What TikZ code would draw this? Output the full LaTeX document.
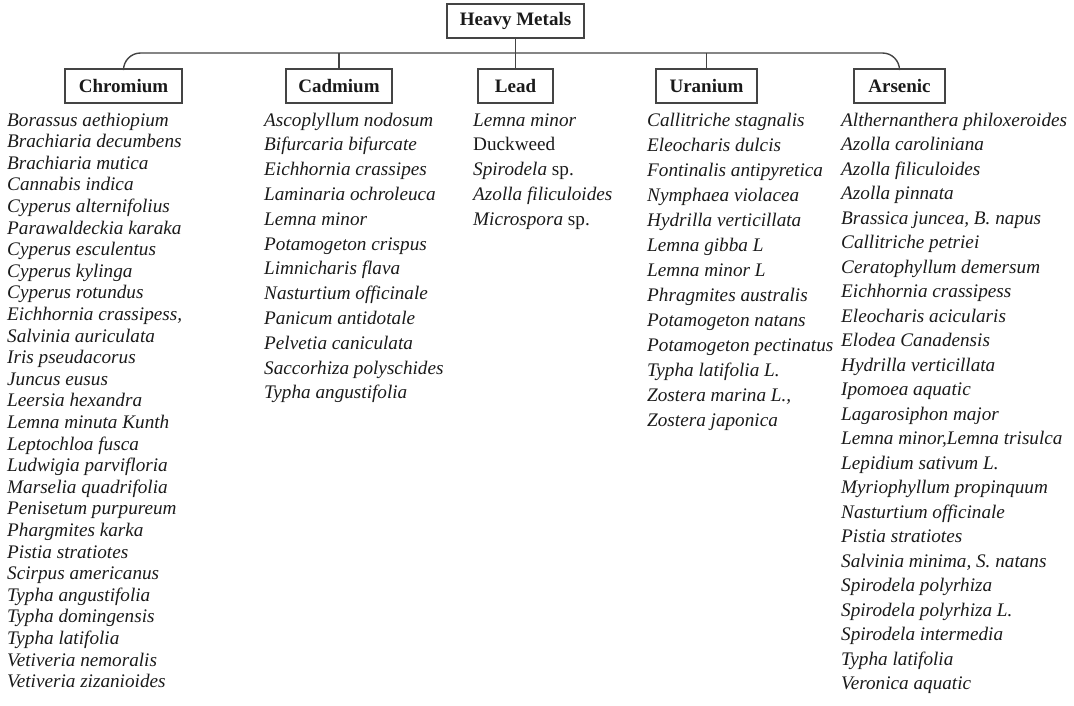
\documentclass[tikz,border=0pt]{standalone}
\usepackage{fontspec}
\setmainfont{Liberation Serif}
\definecolor{ink}{HTML}{1A1A1A}
\definecolor{linec}{HTML}{444444}
\begin{document}
\begin{tikzpicture}[x=1pt,y=-1pt,
  catbox/.style={draw=linec, line width=1.4pt, inner sep=0pt, minimum height=34pt,
     font=\fontsize{19}{22}\selectfont\bfseries, text=ink},
  conn/.style={draw=linec, line width=1.4pt},
  item/.style={anchor=base west, inner sep=0pt, text=ink,
     font=\fontsize{19.2}{22}\selectfont\itshape}]
\useasboundingbox (0,0) rectangle (1074,705);

\node[catbox, minimum width=137pt] (hm)  at (515.5,21) {Heavy Metals};
\node[catbox, minimum width=117pt] (chr) at (123.5,86) {Chromium};
\node[catbox, minimum width=106pt] (cad) at (339,86) {Cadmium};
\node[catbox, minimum width=75pt]  (lead) at (515.5,86) {Lead};
\node[catbox, minimum width=101pt] (ura) at (706.5,86) {Uranium};
\node[catbox, minimum width=91pt]  (ars) at (899.5,86) {Arsenic};

\coordinate (busr) at (899.5,53);
\draw[conn, rounded corners=17pt] (chr.north) |- (busr) -- (ars.north);
\draw[conn] (hm.south) -- (lead.north);
\draw[conn] (cad.north) -- (cad.north |- busr);
\draw[conn] (ura.north) -- (ura.north |- busr);

\foreach \t [count=\i] in {Borassus aethiopium, Brachiaria decumbens, Brachiaria mutica,
  Cannabis indica, Cyperus alternifolius, Parawaldeckia karaka, Cyperus esculentus,
  Cyperus kylinga, Cyperus rotundus, {Eichhornia crassipess,}, Salvinia auriculata,
  Iris pseudacorus, Juncus eusus, Leersia hexandra, Lemna minuta Kunth, Leptochloa fusca,
  Ludwigia parvifloria, Marselia quadrifolia, Penisetum purpureum, Phargmites karka,
  Pistia stratiotes, Scirpus americanus, Typha angustifolia, Typha domingensis,
  Typha latifolia, Vetiveria nemoralis, Vetiveria zizanioides}
  \node[item] (chr-\i) at (7,{126+(\i-1)*21.6}) {\t};

\foreach \t [count=\i] in {Ascoplyllum nodosum, Bifurcaria bifurcate, Eichhornia crassipes,
  Laminaria ochroleuca, Lemna minor, Potamogeton crispus, Limnicharis flava,
  Nasturtium officinale, Panicum antidotale, Pelvetia caniculata, Saccorhiza polyschides,
  Typha angustifolia}
  \node[item] (cad-\i) at (264,{126+(\i-1)*24.8}) {\t};

\foreach \t [count=\i] in {Lemna minor, {\textup{Duckweed}}, {Spirodela \textup{sp.}},
  Azolla filiculoides, {Microspora \textup{sp.}}}
  \node[item] (lead-\i) at (473,{126+(\i-1)*24.8}) {\t};

\foreach \t [count=\i] in {Callitriche stagnalis, Eleocharis dulcis, Fontinalis antipyretica,
  Nymphaea violacea, Hydrilla verticillata, Lemna gibba L, Lemna minor L,
  Phragmites australis, Potamogeton natans, Potamogeton pectinatus, Typha latifolia L.,
  {Zostera marina L.,}, Zostera japonica}
  \node[item] (ura-\i) at (647,{126+(\i-1)*25}) {\t};

\foreach \t [count=\i] in {Althernanthera philoxeroides, Azolla caroliniana,
  Azolla filiculoides, Azolla pinnata, {Brassica juncea, B. napus}, Callitriche petriei,
  Ceratophyllum demersum, Eichhornia crassipess, Eleocharis acicularis, Elodea Canadensis,
  Hydrilla verticillata, Ipomoea aquatic, Lagarosiphon major, {Lemna minor,Lemna trisulca},
  Lepidium sativum L., Myriophyllum propinquum, Nasturtium officinale, Pistia stratiotes,
  {Salvinia minima, S. natans}, Spirodela polyrhiza, Spirodela polyrhiza L.,
  Spirodela intermedia, Typha latifolia, Veronica aquatic}
  \node[item] (ars-\i) at (841,{126+(\i-1)*24.5}) {\t};
\end{tikzpicture}
\end{document}
